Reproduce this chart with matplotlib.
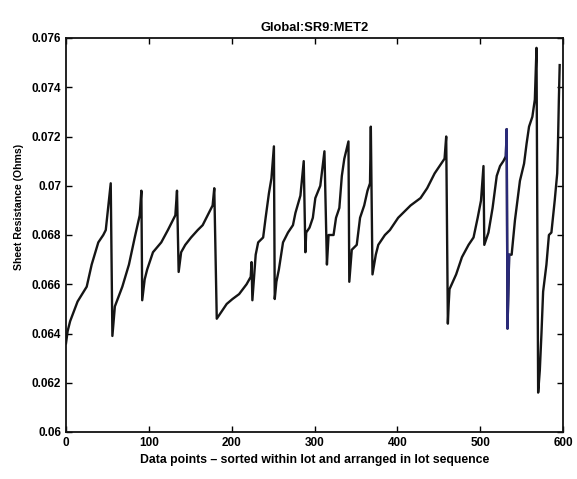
import matplotlib
matplotlib.use("Agg")
import matplotlib.pyplot as plt
import numpy as np

# ---- data: lot-sorted sheet resistance (index, value) vertices per lot ----
lot1_x = [0, 2, 5, 14, 25, 31, 39, 45, 48, 54]
lot1_y = [0.0636, 0.0641, 0.0645, 0.0653, 0.0659, 0.0668, 0.0677, 0.0680, 0.0682, 0.0701]
lot2_x = [56, 59, 68, 76, 83, 89, 91]
lot2_y = [0.0639, 0.0651, 0.0659, 0.0668, 0.0679, 0.0688, 0.0698]
lot3_x = [92, 95, 98, 105, 115, 123, 129, 132, 134]
lot3_y = [0.06535, 0.0662, 0.0666, 0.0673, 0.0677, 0.0682, 0.0686, 0.0688, 0.0698]
lot4_x = [136, 139, 144, 151, 159, 165, 171, 177, 179]
lot4_y = [0.0665, 0.0673, 0.0676, 0.0679, 0.0682, 0.0684, 0.0688, 0.0692, 0.0699]
lot5_x = [182, 188, 194, 201, 209, 218, 223, 224]
lot5_y = [0.0646, 0.0649, 0.0652, 0.0654, 0.0656, 0.0660, 0.0663, 0.0669]
lot6_x = [225, 229, 232, 238, 241, 245, 248, 251]
lot6_y = [0.06535, 0.0672, 0.0677, 0.0679, 0.0687, 0.0697, 0.0703, 0.0716]
lot7_x = [252, 254, 257, 262, 268, 274, 277, 283, 287]
lot7_y = [0.0654, 0.0661, 0.0666, 0.0677, 0.0681, 0.0684, 0.0689, 0.0696, 0.0710]
lot8_x = [289, 290, 294, 298, 301, 307, 312]
lot8_y = [0.0673, 0.0681, 0.0683, 0.0687, 0.0695, 0.0700, 0.0714]
lot9_x = [315, 317, 323, 326, 330, 333, 336, 341]
lot9_y = [0.0668, 0.0680, 0.0680, 0.0687, 0.0691, 0.0704, 0.0711, 0.0718]
lot10_x = [342, 345, 351, 355, 360, 364, 367, 368]
lot10_y = [0.0661, 0.0674, 0.0676, 0.0687, 0.0692, 0.0698, 0.0701, 0.0724]
lot11_x = [370, 374, 377, 385, 391, 401, 416, 428, 436, 445, 453, 457, 459]
lot11_y = [0.0664, 0.0672, 0.0676, 0.0680, 0.0682, 0.0687, 0.0692, 0.0695, 0.0699,
           0.0705, 0.0709, 0.0711, 0.0720]
lot12_x = [461, 462, 463, 471, 478, 486, 492, 497, 501, 504]
lot12_y = [0.0644, 0.0652, 0.0658, 0.0664, 0.0671, 0.0676, 0.0679, 0.0687, 0.0694, 0.0708]
lot13_x = [505, 510, 515, 520, 524, 528, 531, 532]
lot13_y = [0.0676, 0.0681, 0.0691, 0.0704, 0.0708, 0.0710, 0.0712, 0.0723]
lot14_x = [533, 535, 538, 542, 545, 548, 553, 556, 559, 563, 566, 568]
lot14_y = [0.0642, 0.0672, 0.0672, 0.0686, 0.0694, 0.0702, 0.0709, 0.0717, 0.0724,
           0.0728, 0.0735, 0.0756]
lot15_x = [570, 572, 574, 576, 580, 583, 586, 590, 593, 594, 595, 596]
lot15_y = [0.0616, 0.0625, 0.0640, 0.0657, 0.0668, 0.0680, 0.0681, 0.0694, 0.0705,
           0.0718, 0.0735, 0.0749]

x_ticks = [0, 100, 200, 300, 400, 500, 600]
y_ticks = [0.06, 0.062, 0.064, 0.066, 0.068, 0.07, 0.072, 0.074, 0.076]
y_tick_labels = ["0.06", "0.062", "0.064", "0.066", "0.068", "0.07", "0.072", "0.074", "0.076"]

title = "Global:SR9:MET2"
xlabel = "Data points \u2013 sorted within lot and arranged in lot sequence"
ylabel = "Sheet Resistance (Ohms)"

all_x = (lot1_x + lot2_x + lot3_x + lot4_x + lot5_x + lot6_x + lot7_x + lot8_x +
         lot9_x + lot10_x + lot11_x + lot12_x + lot13_x + lot14_x + lot15_x)
all_y = (lot1_y + lot2_y + lot3_y + lot4_y + lot5_y + lot6_y + lot7_y + lot8_y +
         lot9_y + lot10_y + lot11_y + lot12_y + lot13_y + lot14_y + lot15_y)

plt.rcParams['font.family'] = ['Liberation Sans', 'DejaVu Sans']

fig = plt.figure(figsize=(5.77, 4.79), dpi=100)
ax = fig.add_axes([66 / 577, 1 - 432 / 479, 497 / 577, 394 / 479])

ax.plot(all_x, all_y, color='#151515', lw=1.7, solid_joinstyle='round')
# dark-blue stretch visible in the reference (end of lot 13 into lot 14)
blue_x = lot13_x[-2:] + lot14_x[:2]
blue_y = lot13_y[-2:] + lot14_y[:2]
ax.plot(blue_x, blue_y, color='#2a2a78', lw=1.7)

ax.set_xlim(0, 600)
ax.set_ylim(0.06, 0.076)
ax.set_xticks(x_ticks)
ax.set_yticks(y_ticks)
ax.set_yticklabels(y_tick_labels)
ax.tick_params(direction='in', top=True, right=True, length=4, width=1,
               labelsize=8.5)
for lbl in ax.get_xticklabels() + ax.get_yticklabels():
    lbl.set_fontweight('bold')
for s in ax.spines.values():
    s.set_linewidth(1.3)
    s.set_color('#111111')

ax.set_title(title, fontsize=9.3, fontweight='bold', pad=5)
ax.set_xlabel(xlabel, fontsize=8.8, fontweight='bold', labelpad=4)
ax.set_ylabel(ylabel, fontsize=7.6, fontweight='bold')
ax.yaxis.set_label_coords(-0.085, 0.57)

fig.savefig("out.png", dpi=100)
